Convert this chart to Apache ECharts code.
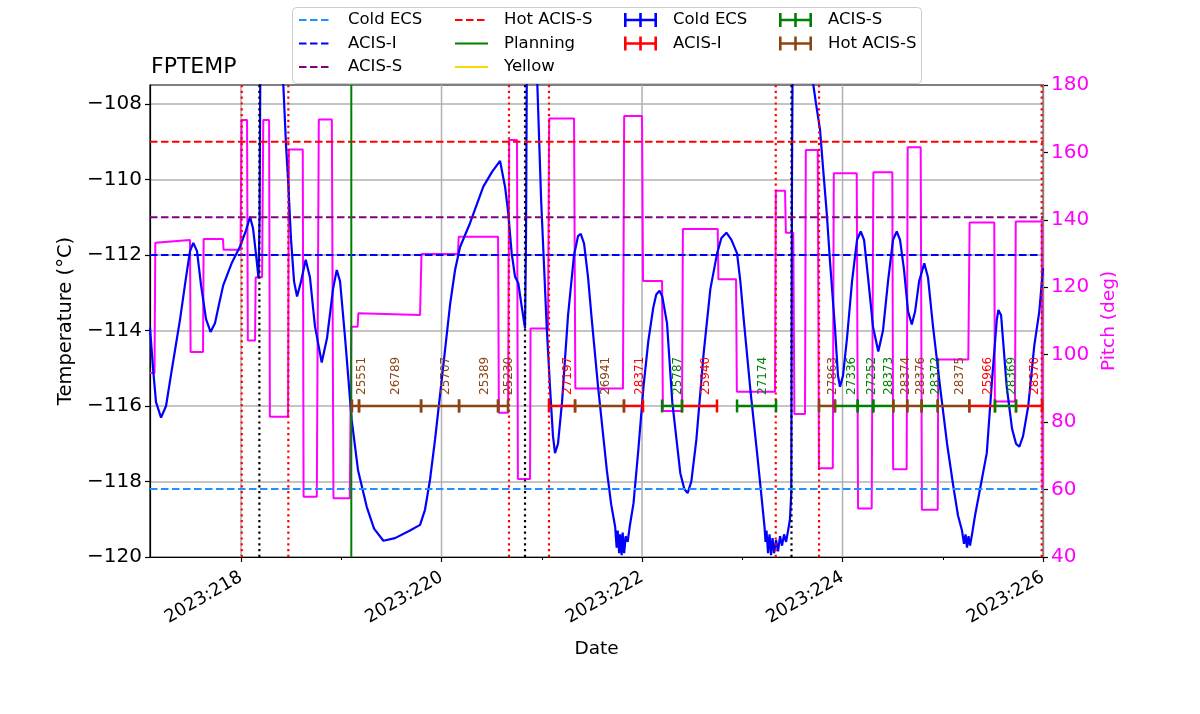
<!DOCTYPE html>
<html>
<head>
<meta charset="utf-8">
<title>FPTEMP</title>
<script src="https://cdn.jsdelivr.net/npm/echarts@6.0.0/dist/echarts.min.js"></script>
<style>
  html, body { margin: 0; padding: 0; background: #fff; }
  #chart { width: 1200px; height: 714px; }
</style>
</head>
<body>
<div id="chart"></div>
<script>
// axis ranges (day of year 2023)
var dayMin = 217.092, dayMax = 226.0;
var tempMin = -120, tempMax = -107.5;
var pitchMin = 40, pitchMax = 180;
var majorDays = [218, 220, 222, 224, 226];
var minorDays = [219, 221, 223, 225];
var tempTicks = [-120, -118, -116, -114, -112, -110, -108];

// limit lines
var limitNames = ['Cold ECS', 'ACIS-I', 'ACIS-S', 'Hot ACIS-S'];
var limitValues = [-118.2, -112.0, -111.0, -109.0];
var limitColors = ['#1e90ff', '#0000ff', '#800080', '#ff0000'];

// vertical markers
var loadStart = [219.10];
var radZone = [218.007, 218.472, 220.673, 221.072, 223.334, 223.766, 225.987];
var perigee = [218.183, 220.833, 223.491];

// FPTEMP model
var fptempDays = [
  217.092, 217.122, 217.152, 217.202, 217.252, 217.312, 217.391, 217.451, 217.491, 217.524,
  217.561, 217.601, 217.651, 217.696, 217.741, 217.781, 217.823, 217.910, 217.990, 218.050,
  218.090, 218.120, 218.150, 218.175, 218.185, 218.200, 218.289, 218.379, 218.422, 218.449,
  218.469, 218.499, 218.529, 218.559, 218.599, 218.645, 218.688, 218.738, 218.805, 218.858,
  218.918, 218.955, 218.988, 219.038, 219.104, 219.167, 219.254, 219.327, 219.420, 219.536,
  219.686, 219.786, 219.835, 219.885, 219.935, 219.985, 220.035, 220.085, 220.135, 220.185,
  220.284, 220.417, 220.504, 220.584, 220.634, 220.666, 220.700, 220.733, 220.766, 220.800,
  220.833, 220.843, 220.858, 220.903, 220.943, 220.956, 220.993, 221.050, 221.082, 221.112,
  221.132, 221.162, 221.202, 221.262, 221.322, 221.362, 221.389, 221.422, 221.462, 221.499,
  221.562, 221.649, 221.692, 221.732, 221.747, 221.757, 221.772, 221.782, 221.797, 221.807,
  221.822, 221.837, 221.857, 221.877, 221.915, 221.962, 222.015, 222.062, 222.112, 222.142,
  222.175, 222.202, 222.249, 222.302, 222.382, 222.422, 222.455, 222.492, 222.542, 222.615,
  222.682, 222.749, 222.792, 222.842, 222.892, 222.948, 222.981, 223.015, 223.082, 223.148,
  223.192, 223.222, 223.232, 223.242, 223.257, 223.272, 223.287, 223.302, 223.317, 223.337,
  223.357, 223.377, 223.397, 223.417, 223.437, 223.457, 223.476, 223.489, 223.496, 223.516,
  223.606, 223.686, 223.709, 223.736, 223.776, 223.806, 223.843, 223.876, 223.925, 223.955,
  223.975, 224.005, 224.045, 224.095, 224.145, 224.182, 224.215, 224.255, 224.304, 224.357,
  224.404, 224.454, 224.504, 224.541, 224.574, 224.614, 224.654, 224.691, 224.724, 224.764,
  224.816, 224.853, 224.903, 224.973, 225.043, 225.106, 225.152, 225.192, 225.212, 225.227,
  225.242, 225.257, 225.272, 225.292, 225.322, 225.372, 225.439, 225.492, 225.539, 225.555,
  225.582, 225.638, 225.691, 225.731, 225.764, 225.801, 225.853, 225.913, 225.963, 226.000
];
var fptempValues = [
  -113.92, -115.0, -115.9, -116.31, -116.0, -115.0, -113.72, -112.6, -111.9, -111.68,
  -111.9, -112.8, -113.7, -114.04, -113.8, -113.3, -112.8, -112.2, -111.78, -111.35,
  -110.99, -111.3, -112.0, -112.62, -111.0, -103, -96, -103, -107.5, -109.1,
  -110.0, -111.6, -112.7, -113.10, -112.7, -112.13, -112.6, -113.9, -114.85, -114.2,
  -112.9, -112.40, -112.7, -114.2, -116.37, -117.7, -118.67, -119.25, -119.57, -119.5,
  -119.3, -119.15, -118.75, -117.96, -116.90, -115.71, -114.52, -113.32, -112.40, -111.79,
  -111.16, -110.19, -109.8, -109.51, -110.2, -110.90, -111.96, -112.57, -112.75, -113.37,
  -113.94, -111.5, -103, -97, -104, -107.5, -110.5, -113.94, -115.49, -116.8,
  -117.25, -117.0, -115.9, -113.6, -112.0, -111.5, -111.44, -111.7, -112.6, -113.72,
  -115.5, -117.70, -118.6, -119.2, -119.75, -119.3, -119.9, -119.4, -119.95, -119.35,
  -119.9, -119.45, -119.6, -119.2, -118.58, -117.2, -115.49, -114.3, -113.4, -113.05,
  -112.95, -113.1, -113.8, -115.9, -117.78, -118.2, -118.31, -118.0, -116.9, -114.60,
  -112.9, -111.96, -111.55, -111.41, -111.6, -111.96, -112.7, -113.72, -115.6, -117.25,
  -118.4, -119.2, -119.6, -119.3, -119.9, -119.4, -119.95, -119.5, -119.9, -119.55,
  -119.85, -119.45, -119.7, -119.4, -119.6, -119.3, -119.0, -118.3, -110, -100,
  -94, -103, -107.5, -108.0, -108.69, -109.7, -110.90, -112.2, -113.94, -115.2,
  -115.49, -115.2, -114.2, -112.7, -111.6, -111.38, -111.6, -112.6, -113.9, -114.56,
  -114.0, -112.7, -111.6, -111.38, -111.6, -112.4, -113.5, -113.84, -113.5, -112.7,
  -112.22, -112.6, -113.9, -115.49, -117.0, -118.14, -118.9, -119.3, -119.65, -119.4,
  -119.75, -119.45, -119.7, -119.4, -118.9, -118.2, -117.25, -115.3, -113.72, -113.46,
  -113.6, -115.49, -116.6, -117.0, -117.08, -116.8, -116.0, -114.4, -113.5, -112.35
];

// pitch
var pitchDays = [
  217.092, 217.137, 217.145, 217.491, 217.497, 217.621, 217.627, 217.820, 217.826, 217.995,
  218.005, 218.060, 218.068, 218.140, 218.146, 218.210, 218.222, 218.280, 218.288, 218.469,
  218.477, 218.616, 218.624, 218.756, 218.776, 218.906, 218.922, 219.085, 219.100, 219.163,
  219.170, 219.786, 219.800, 220.163, 220.172, 220.564, 220.572, 220.664, 220.675, 220.753,
  220.762, 220.883, 220.888, 221.062, 221.074, 221.322, 221.335, 221.810, 221.822, 222.000,
  222.010, 222.200, 222.208, 222.399, 222.408, 222.755, 222.762, 222.938, 222.946, 223.327,
  223.335, 223.427, 223.435, 223.509, 223.520, 223.626, 223.634, 223.753, 223.765, 223.903,
  223.913, 224.142, 224.155, 224.291, 224.308, 224.497, 224.505, 224.640, 224.650, 224.780,
  224.792, 224.950, 224.955, 225.255, 225.268, 225.514, 225.520, 225.721, 225.728, 225.988,
  225.995
];
var pitchValues = [
  94.6, 94.6, 133.2, 134.0, 100.8, 100.8, 134.3, 134.3, 131.1, 131.1,
  169.6, 169.6, 104.2, 104.2, 123.0, 123.0, 169.6, 169.6, 81.6, 81.6,
  160.9, 160.9, 57.9, 57.9, 169.8, 169.8, 57.4, 57.4, 108.3, 108.3,
  112.3, 111.8, 129.9, 129.9, 135.0, 135.0, 82.8, 82.8, 163.7, 163.7,
  63.1, 63.1, 107.8, 107.8, 170.1, 170.1, 90.0, 90.0, 170.8, 170.8,
  121.9, 121.9, 83.3, 83.3, 137.3, 137.3, 122.4, 122.4, 89.0, 89.0,
  148.6, 148.6, 136.2, 136.2, 82.4, 82.4, 160.7, 160.7, 66.3, 66.3,
  153.8, 153.8, 54.4, 54.4, 154.1, 154.1, 66.0, 66.0, 161.5, 161.5,
  54.0, 54.0, 98.6, 98.6, 139.2, 139.2, 86.1, 86.1, 139.5, 139.5,
  60.0
];

// observations
var obsIds = ['25551', '26789', '25707', '25389', '25230', '27197', '26941', '28371', '25787', '25940', '27174',
  '27863', '27336', '27252', '28373', '28374', '28376', '28372', '28375', '25966', '28369', '28370'];
var obsStart = [219.107, 219.177, 219.796, 220.175, 220.564, 221.072, 221.332, 221.820, 222.200, 222.399, 222.948,
  223.766, 223.925, 224.152, 224.307, 224.507, 224.646, 224.790, 224.950, 225.265, 225.521, 225.731];
var obsStop = [219.177, 219.796, 220.175, 220.564, 220.663, 221.332, 221.820, 222.010, 222.399, 222.748, 223.337,
  223.925, 224.152, 224.307, 224.507, 224.646, 224.790, 224.950, 225.265, 225.521, 225.731, 225.990];
var obsMode = ['Hot ACIS-S', 'Hot ACIS-S', 'Hot ACIS-S', 'Hot ACIS-S', 'Hot ACIS-S', 'ACIS-I', 'Hot ACIS-S', 'ACIS-I',
  'ACIS-S', 'ACIS-I', 'ACIS-S', 'Hot ACIS-S', 'ACIS-S', 'ACIS-S', 'ACIS-S', 'Hot ACIS-S', 'Hot ACIS-S', 'ACIS-S',
  'Hot ACIS-S', 'ACIS-I', 'ACIS-S', 'ACIS-I'];
var obsModes = ['Cold ECS', 'ACIS-I', 'ACIS-S', 'Hot ACIS-S'];
var obsColors = ['#0000ff', '#ff0000', '#008000', '#8b4513'];
var obsBarTemp = -116.0;
var obsLabelTemp = -115.71;

var FONT = 'DejaVu Sans';
var barIcon = 'path://M0,0h2.6v14h-2.6z M15.2,0h2.6v14h-2.6z M30.4,0h2.6v14h-2.6z M0,5.75h33v2.5h-33z';

function minusFmt(v) {
  return v < 0 ? '\u2212' + Math.abs(v) : String(v);
}

function pairs(xs, ys) {
  return xs.map(function (x, i) { return [x, ys[i]]; });
}

// vertical lines spanning the temperature range, broken between days
function verticals(days) {
  var out = [];
  days.forEach(function (d) {
    out.push([d, tempMin], [d, tempMax], [d, '-']);
  });
  return out;
}

function vline(name, days, color, width, dash, z) {
  return {
    name: name, type: 'line', data: verticals(days), symbol: 'none', silent: true, z: z,
    lineStyle: { color: color, width: width, type: dash }
  };
}

function obsSeries(k) {
  var mode = obsModes[k], color = obsColors[k];
  var ids = [], data = [];
  for (var i = 0; i < obsIds.length; i++) {
    if (obsMode[i] === mode) {
      ids.push(obsIds[i]);
      data.push([obsStart[i], obsStop[i], obsBarTemp]);
    }
  }
  return {
    name: mode + ' ', type: 'custom', z: 6, silent: true,
    itemStyle: { color: color },
    encode: { x: [0, 1], y: 2 },
    data: data,
    renderItem: function (params, api) {
      var s = api.value(0), e = api.value(1);
      var a = api.coord([s, obsBarTemp]);
      var b = api.coord([e, obsBarTemp]);
      var t = api.coord([(s + e) / 2, obsLabelTemp]);
      var cap = 6.5;
      var ls = { stroke: color, lineWidth: 2.5 };
      return {
        type: 'group',
        children: [
          { type: 'line', shape: { x1: a[0], y1: a[1], x2: b[0], y2: b[1] }, style: ls },
          { type: 'line', shape: { x1: a[0], y1: a[1] - cap, x2: a[0], y2: a[1] + cap }, style: ls },
          { type: 'line', shape: { x1: b[0], y1: b[1] - cap, x2: b[0], y2: b[1] + cap }, style: ls },
          {
            type: 'text', x: t[0], y: t[1], rotation: Math.PI / 2,
            style: {
              text: ids[params.dataIndex], fill: color, fontSize: 12, fontFamily: FONT,
              align: 'left', verticalAlign: 'top'
            }
          }
        ]
      };
    }
  };
}

var series = [];
series.push(vline('grid', majorDays, '#b0b0b0', 1.5, 'solid', 1));
series.push({
  name: 'Pitch', type: 'line', yAxisIndex: 1, data: pairs(pitchDays, pitchValues),
  symbol: 'none', silent: true, z: 2, lineStyle: { color: '#ff00ff', width: 2 }
});
series.push({
  name: 'FPTEMP', type: 'line', data: pairs(fptempDays, fptempValues),
  symbol: 'none', silent: true, z: 3, lineStyle: { color: '#0000ff', width: 2.2 }
});
limitNames.forEach(function (n, i) {
  series.push({
    name: n, type: 'line', data: [[dayMin, limitValues[i]], [dayMax, limitValues[i]]],
    symbol: 'none', silent: true, z: 4, itemStyle: { color: limitColors[i] },
    lineStyle: { color: limitColors[i], width: 2, type: [7.5, 3.5] }
  });
});
series.push({ name: 'Planning', type: 'line', data: [], symbol: 'none', itemStyle: { color: '#008000' }, lineStyle: { color: '#008000', width: 2 } });
series.push({ name: 'Yellow', type: 'line', data: [], symbol: 'none', itemStyle: { color: '#ffd700' }, lineStyle: { color: '#ffd700', width: 2 } });
series.push(vline('Load start', loadStart, '#008000', 2, 'solid', 5));
series.push(vline('Radiation zone', radZone, '#ff0000', 2.2, [2.2, 3.6], 5));
series.push(vline('Perigee', perigee, '#000000', 2.2, [2.2, 3.6], 5));
for (var k = 0; k < obsModes.length; k++) series.push(obsSeries(k));

function legendCol(left, data, hideSymbol) {
  var lg = {
    orient: 'vertical', left: left, top: 11, padding: 0,
    itemWidth: 33, itemHeight: 14, itemGap: 5.5, selectedMode: false,
    textStyle: { fontSize: 16.5, fontFamily: FONT, color: '#000', lineHeight: 18, padding: [0, 0, 0, 11] },
    data: data
  };
  if (hideSymbol) lg.itemStyle = { opacity: 0 };
  return lg;
}
function barItem(k) {
  return { name: obsModes[k] + ' ', icon: barIcon, itemStyle: { color: obsColors[k] } };
}

var chart = echarts.init(document.getElementById('chart'));
chart.setOption({
  animation: false,
  backgroundColor: '#fff',
  title: {
    text: 'FPTEMP', left: 146, top: 51,
    textStyle: { fontSize: 22, fontWeight: 'normal', color: '#000', fontFamily: FONT }
  },
  graphic: [{
    type: 'rect', left: 292, top: 7, z: 0,
    shape: { width: 629, height: 76, r: 4 },
    style: { fill: 'rgba(255,255,255,0.8)', stroke: '#cccccc', lineWidth: 1 }
  }],
  legend: [
    legendCol(298, ['Cold ECS', 'ACIS-I', 'ACIS-S'], true),
    legendCol(454, ['Hot ACIS-S', 'Planning', 'Yellow'], true),
    legendCol(624, [barItem(0), barItem(1)], false),
    legendCol(779, [barItem(2), barItem(3)], false)
  ],
  grid: {
    left: 150, right: 157, top: 85, bottom: 157,
    show: true, borderColor: '#000', borderWidth: 1.2, backgroundColor: 'transparent'
  },
  xAxis: [{
    type: 'value', min: dayMin, max: dayMax, position: 'bottom',
    axisLine: { show: true, onZero: false, lineStyle: { color: '#000', width: 1.2 } },
    axisTick: { show: true, customValues: majorDays, length: 5, lineStyle: { color: '#000', width: 1.2 } },
    axisLabel: {
      customValues: majorDays, rotate: 30, margin: 19, fontSize: 18, color: '#000', fontFamily: FONT,
      formatter: function (v) { return '2023:' + v; }
    },
    splitLine: { show: false },
    name: 'Date', nameLocation: 'middle', nameGap: 83,
    nameTextStyle: { fontSize: 18.5, color: '#000', fontFamily: FONT }
  }, {
    type: 'value', min: dayMin, max: dayMax, position: 'bottom',
    axisLine: { show: false },
    axisTick: { show: true, customValues: minorDays, length: 3, lineStyle: { color: '#000', width: 1 } },
    axisLabel: { show: false },
    splitLine: { show: false }
  }],
  yAxis: [{
    type: 'value', min: tempMin, max: tempMax, interval: 2, position: 'left',
    axisLine: { show: true, onZero: false, lineStyle: { color: '#000', width: 1.2 } },
    axisTick: { show: true, customValues: tempTicks, length: 5, lineStyle: { color: '#000', width: 1.2 } },
    axisLabel: { customValues: tempTicks, margin: 8, fontSize: 20, color: '#000', fontFamily: FONT, formatter: minusFmt },
    splitLine: { show: true, lineStyle: { color: '#b0b0b0', width: 1.5 } },
    name: 'Temperature (°C)', nameLocation: 'middle', nameGap: 71, nameRotate: 90,
    nameTextStyle: { fontSize: 19.5, color: '#000', fontFamily: FONT }
  }, {
    type: 'value', min: pitchMin, max: pitchMax, interval: 20, position: 'right',
    axisLine: { show: true, onZero: false, lineStyle: { color: '#000', width: 1.2 } },
    axisTick: { show: true, length: 5, lineStyle: { color: '#000', width: 1.2 } },
    axisLabel: { margin: 8, fontSize: 20, color: '#ff00ff', fontFamily: FONT },
    splitLine: { show: false },
    name: 'Pitch (deg)', nameLocation: 'middle', nameGap: 53, nameRotate: 90,
    nameTextStyle: { fontSize: 18.5, color: '#ff00ff', fontFamily: FONT }
  }],
  series: series
});
</script>
</body>
</html>
